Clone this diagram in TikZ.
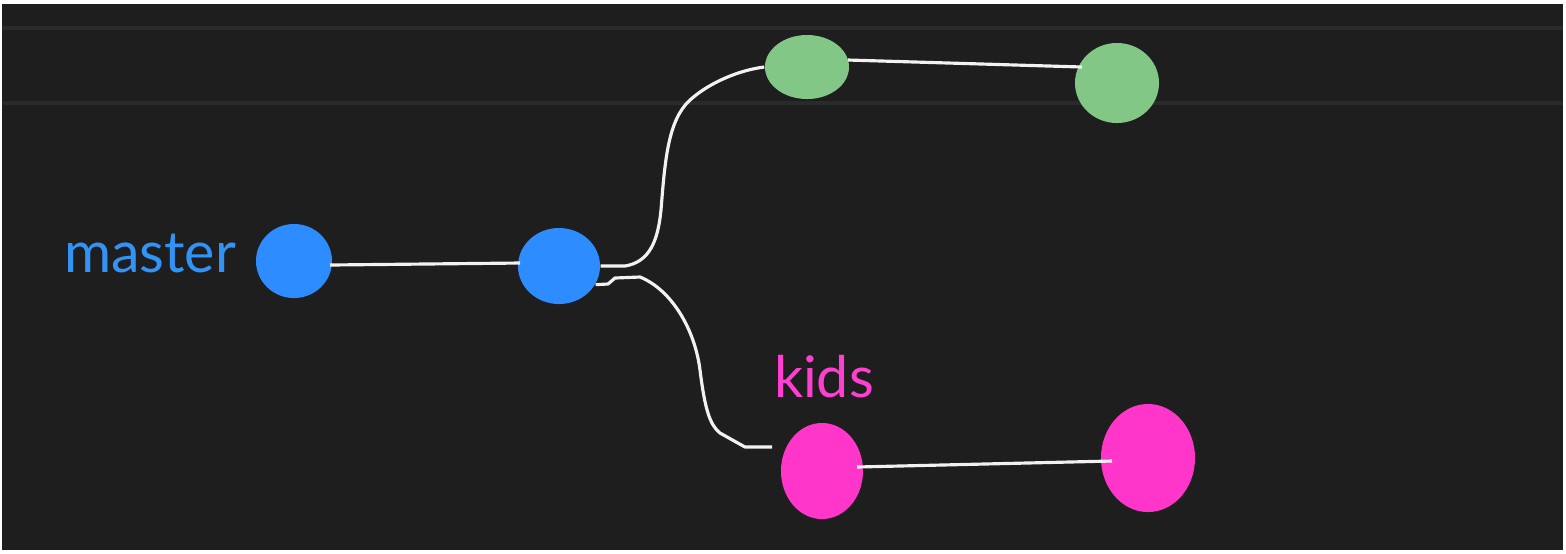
\documentclass[tikz,border=0pt]{standalone}
\usepackage{fontspec}
\setmainfont{Lato}
\usetikzlibrary{shapes.geometric,calc}
\definecolor{bgdark}{HTML}{1E1E1E}
\definecolor{stripe}{HTML}{2A2A2A}
\definecolor{cblue}{HTML}{2D8CFF}
\definecolor{tblue}{HTML}{3193F5}
\definecolor{cgreen}{HTML}{82C785}
\definecolor{cpink}{HTML}{FF36C9}
\definecolor{tpink}{HTML}{FF3FCF}
\definecolor{wire}{HTML}{F2F2F2}
\tikzset{
  commit/.style={ellipse, inner sep=0pt, draw=none},
  link/.style={draw=wire, line width=0.9pt, line join=round},
  label/.style={font=\fontsize{16.3}{19}\selectfont, anchor=base, inner sep=0pt}
}
\begin{document}
\begin{tikzpicture}[x={(0.01cm,0)}, y={(0,-0.01cm)}]
  \useasboundingbox (0,0) rectangle (1566,553);
  \fill[white] (0,0) rectangle (1566,553);
  \fill[bgdark] (2,4) rectangle (1563,550);
  \draw[stripe, line width=0.9pt] (2,28) -- (1563,28);
  \draw[stripe, line width=0.9pt] (2,103) -- (1563,103);

  \node[commit, fill=cblue, minimum width=0.76cm, minimum height=0.74cm] (b1) at (294,261) {};
  \node[commit, fill=cblue, minimum width=0.82cm, minimum height=0.76cm] (b2) at (559,266) {};
  \node[commit, fill=cgreen, minimum width=0.84cm, minimum height=0.64cm] (g1) at (807,67) {};
  \node[commit, fill=cgreen, minimum width=0.84cm, minimum height=0.80cm] (g2) at (1117,83) {};
  \node[commit, fill=cpink, minimum width=0.82cm, minimum height=0.96cm] (p1) at (822,471) {};
  \node[commit, fill=cpink, minimum width=0.94cm, minimum height=1.08cm] (p2) at (1148,458) {};

  \node[label, text=tblue] (tmaster) at (150,272) {master};
  \node[label, text=tpink] (tkids) at (824,397) {kids};

  \coordinate (kend) at (772,447);

  \draw[link] ($(b1.center)+(36,4)$) -- ($(b2.center)+(-39,-3)$);
  \draw[link] ($(g1.center)+(41,-7)$) -- ($(g2.center)+(-35,-16)$);
  \draw[link] ($(p1.center)+(35,-4)$) -- ($(p2.center)+(-36,3)$);

  \draw[link] (b2.east) -- (625,266)
     .. controls (650,262) and (658,240) .. (661,210)
     .. controls (665,160) and (668,120) .. (690,100)
     .. controls (710,82) and (740,70) .. (g1.west);
  \draw[link] (b2.-27) -- (608,284) -- (615,278) -- (640,277)
     .. controls (672,290) and (695,330) .. (700,370)
     .. controls (705,410) and (710,425) .. (720,433)
     -- (745,447) -- (kend);
\end{tikzpicture}
\end{document}
